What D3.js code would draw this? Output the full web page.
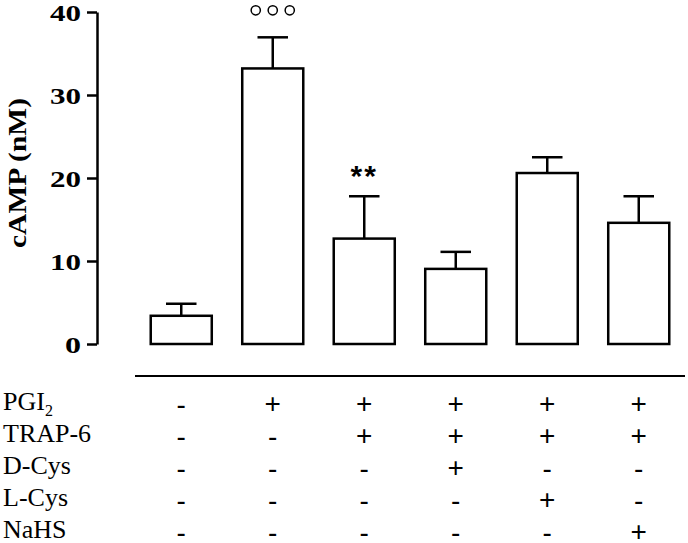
<!DOCTYPE html>
<html>
<head>
<meta charset="utf-8">
<script src="https://cdn.jsdelivr.net/npm/d3@7"></script>
<style>
  body { margin: 0; background: #fff; }
  svg { display: block; }
  .serif { font-family: "Liberation Serif", "Times New Roman", Times, serif; }
  .sans { font-family: "Liberation Sans", Arial, Helvetica, sans-serif; }
</style>
</head>
<body>
<script>
// data
var groups = ["g1", "g2", "g3", "g4", "g5", "g6"];
var means = [3.4, 33.2, 12.7, 9.05, 20.6, 14.6];
var errors = [1.45, 3.75, 5.1, 2.05, 1.9, 3.2];
var marks = ["", "ooo", "**", "", "", ""];
var yTicks = [0, 10, 20, 30, 40];
var rowLabels = ["PGI", "TRAP-6", "D-Cys", "L-Cys", "NaHS"];
var treatments = [
  ["-", "+", "+", "+", "+", "+"],
  ["-", "-", "+", "+", "+", "+"],
  ["-", "-", "-", "+", "-", "-"],
  ["-", "-", "-", "-", "+", "-"],
  ["-", "-", "-", "-", "-", "+"]
];

var width = 688, height = 543;

var svg = d3.select("body").append("svg")
    .attr("width", width)
    .attr("height", height);

// scales
var x = d3.scaleBand()
    .domain(groups)
    .range([135, 685])
    .paddingInner(0.333)
    .paddingOuter(0.172);

var y = d3.scaleLinear()
    .domain([0, 40])
    .range([344, 12]);

// y axis
var yAxis = svg.append("g")
    .attr("transform", "translate(97,0)")
    .call(d3.axisLeft(y).tickValues(yTicks).tickSize(10).tickSizeOuter(0).tickPadding(6));

yAxis.attr("font-family", null).attr("font-size", null);
yAxis.select(".domain").attr("stroke", "#000").attr("stroke-width", 2.5);
yAxis.selectAll(".tick line").attr("stroke", "#000").attr("stroke-width", 2.5);
yAxis.selectAll(".tick text")
    .attr("class", "serif")
    .style("font-weight", "bold")
    .style("font-size", "23px")
    .attr("fill", "#000")
    .attr("dy", "0.36em")
    .attr("textLength", d => d === 0 ? 16 : 31)
    .attr("lengthAdjust", "spacingAndGlyphs");

// y label
svg.append("text")
    .attr("class", "serif")
    .attr("transform", "translate(26,173) rotate(-90)")
    .attr("text-anchor", "middle")
    .style("font-weight", "bold")
    .style("font-size", "25px")
    .attr("textLength", 150)
    .attr("lengthAdjust", "spacingAndGlyphs")
    .text("cAMP (nM)");

// error bars (drawn under the bars)
var err = svg.append("g").attr("stroke", "#000").attr("stroke-width", 2.5);
groups.forEach(function(g, i) {
  var cx = x(g) + x.bandwidth() / 2;
  err.append("line")
      .attr("x1", cx).attr("x2", cx)
      .attr("y1", y(means[i])).attr("y2", y(means[i] + errors[i]));
  err.append("line")
      .attr("x1", cx - x.bandwidth() / 4).attr("x2", cx + x.bandwidth() / 4)
      .attr("y1", y(means[i] + errors[i])).attr("y2", y(means[i] + errors[i]));
});

// bars
svg.append("g")
  .selectAll("rect")
  .data(groups)
  .join("rect")
    .attr("x", d => x(d))
    .attr("y", (d, i) => y(means[i]))
    .attr("width", x.bandwidth())
    .attr("height", (d, i) => y(0) - y(means[i]))
    .attr("fill", "#fff")
    .attr("stroke", "#000")
    .attr("stroke-width", 2.5);

// significance marks
groups.forEach(function(g, i) {
  var cx = x(g) + x.bandwidth() / 2;
  var top = y(means[i] + errors[i]);
  if (marks[i] === "ooo") {
    [-17, 0, 17].forEach(function(dx) {
      svg.append("circle")
          .attr("cx", cx + dx)
          .attr("cy", top - 27)
          .attr("r", 4.6)
          .attr("fill", "none")
          .attr("stroke", "#000")
          .attr("stroke-width", 1.5);
    });
  } else if (marks[i] === "**") {
    svg.append("text")
        .attr("class", "sans")
        .attr("x", cx)
        .attr("y", top - 10)
        .attr("text-anchor", "middle")
        .style("font-weight", "bold")
        .style("font-size", "30px")
        .attr("letter-spacing", 2)
        .text("**");
  }
});

// separator line
svg.append("line")
    .attr("x1", 135).attr("x2", 685)
    .attr("y1", 376).attr("y2", 376)
    .attr("stroke", "#000")
    .attr("stroke-width", 2);

// treatment table
var rowY = d3.scalePoint()
    .domain(rowLabels)
    .range([403, 531]);

var labels = svg.append("g")
    .attr("class", "serif")
    .style("font-size", "26px")
    .attr("fill", "#000");

rowLabels.forEach(function(r) {
  var t = labels.append("text")
      .attr("x", 3)
      .attr("y", rowY(r) + 7)
      .text(r);
  if (r === "PGI") {
    t.append("tspan")
        .style("font-size", "16px")
        .attr("dy", 6)
        .text("2");
  }
});

var signs = svg.append("g")
    .attr("class", "sans")
    .style("font-size", "28px")
    .attr("text-anchor", "middle")
    .attr("fill", "#000");

treatments.forEach(function(row, ri) {
  row.forEach(function(s, ci) {
    signs.append("text")
        .attr("x", x(groups[ci]) + x.bandwidth() / 2)
        .attr("y", rowY(rowLabels[ri]))
        .attr("dy", s === "+" ? "0.35em" : "0.4em")
        .text(s);
  });
});
</script>
</body>
</html>
